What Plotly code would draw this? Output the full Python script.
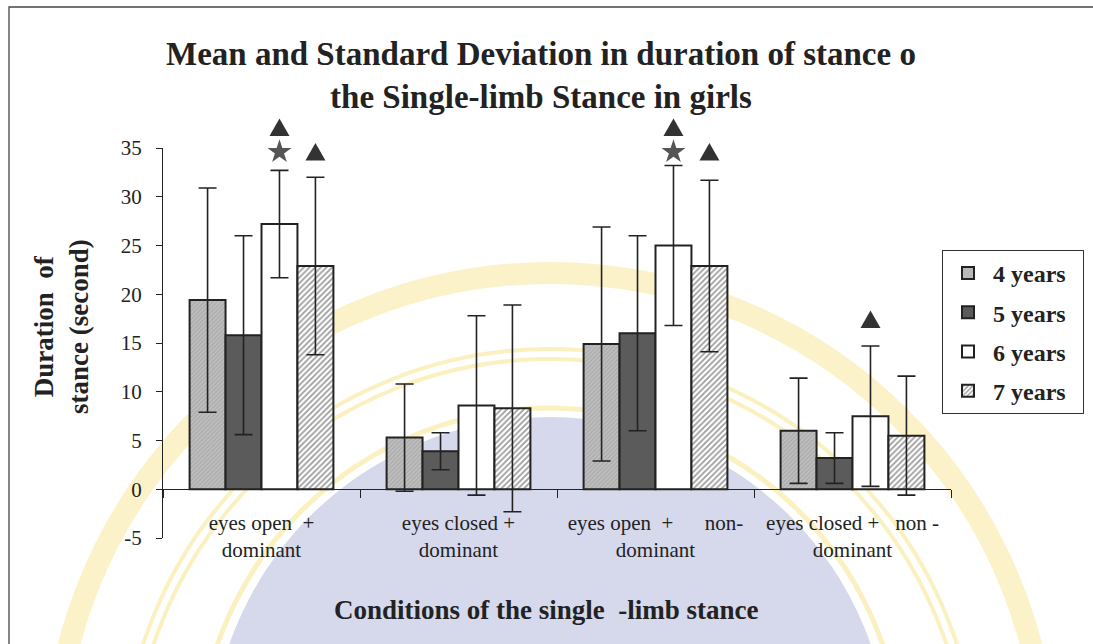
import plotly.graph_objects as go

categories = ["eyes open  +<br>dominant", "eyes closed +<br>dominant",
              "eyes open  +      non-<br>dominant", "eyes closed +   non -<br>dominant"]
series_names = ["4 years", "5 years", "6 years", "7 years"]
means = {
    "4 years": [19.4, 5.3, 14.9, 6.0],
    "5 years": [15.8, 3.9, 16.0, 3.2],
    "6 years": [27.2, 8.6, 25.0, 7.5],
    "7 years": [22.9, 8.3, 22.9, 5.5],
}
sds = {
    "4 years": [11.5, 5.5, 12.0, 5.4],
    "5 years": [10.2, 1.9, 10.0, 2.6],
    "6 years": [5.5, 9.2, 8.2, 7.2],
    "7 years": [9.1, 10.6, 8.8, 6.1],
}
# significance markers: category index, series index, y value
tri_cat = [0, 0, 2, 2, 3]
tri_series = [2, 3, 2, 3, 2]
tri_y = [37.1, 34.6, 37.1, 34.6, 17.4]
star_cat = [0, 2]
star_series = [2, 2]
star_y = [34.6, 34.6]

y_ticks = [-5, 0, 5, 10, 15, 20, 25, 30, 35]
y_ticktext = ["-5", "0", "5", "10", "15", "20", "25", "30", "35"]
Y_RANGE = [-5, 35]

W, H = 1093, 644
L, R, T, B = 163, 142, 148, 106
PW, PH = W - L - R, H - T - B
SERIF = "Liberation Serif"
BARGAP = 0.27

def px(x):
    return (x - L) / PW

def py(y):
    return (T + PH - y) / PH

def yval_paper(v):
    return (v - Y_RANGE[0]) / (Y_RANGE[1] - Y_RANGE[0])

styles = {
    "4 years": dict(color="#b4b4b4", pattern=dict(shape="/", fgcolor="#8a8a8a", bgcolor="#bebebe", size=3, solidity=0.3)),
    "5 years": dict(color="#5b5b5b"),
    "6 years": dict(color="#ffffff"),
    "7 years": dict(color="#ffffff", pattern=dict(shape="/", fgcolor="#3a3a3a", bgcolor="#ffffff", size=4, solidity=0.45)),
}

fig = go.Figure()

# watermark approximation (background emblem)
shapes = []
def circ(cx, cy, r, **kw):
    return dict(type="circle", xref="paper", yref="paper", layer="below",
                x0=px(cx - r), x1=px(cx + r), y0=py(cy + r), y1=py(cy - r), **kw)

shapes.append(circ(550, 757, 340, fillcolor="rgba(214,216,236,1)", line=dict(width=0)))
shapes.append(circ(550, 760, 352, fillcolor="rgba(0,0,0,0)", line=dict(width=5, color="rgba(250,234,165,0.7)")))
shapes.append(circ(550, 777, 418, fillcolor="rgba(0,0,0,0)", line=dict(width=4, color="rgba(250,234,165,0.7)")))
shapes.append(circ(550, 777, 428, fillcolor="rgba(0,0,0,0)", line=dict(width=4, color="rgba(250,234,165,0.7)")))
shapes.append(circ(550, 770, 497, fillcolor="rgba(0,0,0,0)", line=dict(width=22, color="rgba(250,234,165,0.6)")))
# outer frame
shapes.append(dict(type="rect", xref="paper", yref="paper", layer="above",
                   x0=px(9), x1=px(1110), y0=py(670), y1=py(7),
                   fillcolor="rgba(0,0,0,0)", line=dict(width=1.3, color="#444")))

for i, name in enumerate(series_names):
    st = styles[name]
    marker = dict(color=st["color"], line=dict(color="#222", width=2))
    if "pattern" in st:
        marker["pattern"] = st["pattern"]
    fig.add_trace(go.Bar(
        name=f"<b>{name}</b>\u00a0\u00a0", x=categories, y=means[name],
        marker=marker, legendgroup=name,
        error_y=dict(type="data", array=sds[name], visible=True,
                     color="#222", thickness=1.6, width=9),
    ))

w = (1 - BARGAP) / 4
# triangles: pixel-sized glyph anchored at the (category, series, value) position
for c, s, v in zip(tri_cat, tri_series, tri_y):
    shapes.append(dict(
        type="path", xref="x2", yref="paper", layer="above",
        xsizemode="pixel", ysizemode="pixel",
        xanchor=c + (s - 1.5) * w, yanchor=yval_paper(v),
        path="M -10 -8.5 L 10 -8.5 L 0 9 Z",
        fillcolor="#333", line=dict(width=0),
    ))
# stars as markers on an overlaid numeric axis matching the category positions
fig.add_trace(go.Scatter(
    x=[c + (s - 1.5) * w for c, s in zip(star_cat, star_series)], y=star_y,
    xaxis="x2", yaxis="y", mode="markers", showlegend=False, cliponaxis=False,
    hoverinfo="skip",
    marker=dict(symbol="star", size=18, color="#555", line=dict(width=0)),
))

annotations = []
annotations.append(dict(
    x=px(541), y=py(75), xref="paper", yref="paper", showarrow=False,
    text="<b>Mean and Standard Deviation in duration of stance o<br>the Single-limb Stance in girls</b>",
    font=dict(family=SERIF, size=33, color="#222"), xanchor="center", yanchor="middle"))
annotations.append(dict(
    x=px(61), y=py(327), xref="paper", yref="paper", showarrow=False, textangle=-90,
    text="<b>Duration  of<br>stance (second)</b>",
    font=dict(family=SERIF, size=27, color="#222"), xanchor="center", yanchor="middle"))
annotations.append(dict(
    x=px(546), y=py(610), xref="paper", yref="paper", showarrow=False,
    text="<b>Conditions of the single  -limb stance</b>",
    font=dict(family=SERIF, size=27, color="#222"), xanchor="center", yanchor="middle"))

fig.update_layout(
    width=W, height=H,
    margin=dict(l=L, r=R, t=T, b=B, autoexpand=False),
    paper_bgcolor="white", plot_bgcolor="rgba(0,0,0,0)",
    barmode="group", bargap=BARGAP, bargroupgap=0,
    showlegend=True,
    legend=dict(x=px(942), y=py(250), xanchor="left", yanchor="top",
                bordercolor="#333", borderwidth=1, bgcolor="white",
                font=dict(family=SERIF, size=24, color="#222"),
                tracegroupgap=5, itemwidth=40),
    shapes=shapes, annotations=annotations,
    font=dict(family=SERIF, color="#222"),
    xaxis2=dict(overlaying="x", range=[-0.5, 3.5], visible=False, domain=[0, 1],
                type="linear"),
)
fig.update_layout(xaxis=dict(
    type="category", anchor="free", position=yval_paper(0),
    showline=True, linecolor="#222", linewidth=1.2,
    ticks="outside", tickson="boundaries", ticklen=8, tickcolor="#222",
    tickfont=dict(family=SERIF, size=21, color="#222"),
    ticklabelstandoff=14, showgrid=False, zeroline=False,
))
fig.update_yaxes(
    range=Y_RANGE, tickvals=y_ticks, ticktext=y_ticktext,
    showline=True, linecolor="#222", linewidth=1.2,
    ticks="outside", ticklen=6, tickcolor="#222",
    tickfont=dict(family=SERIF, size=21, color="#222"),
    ticklabelstandoff=10, showgrid=False, zeroline=False,
)

fig.write_html("out.html", config={"displayModeBar": False},
               post_script="document.body.style.margin='0';document.body.style.padding='0';")
